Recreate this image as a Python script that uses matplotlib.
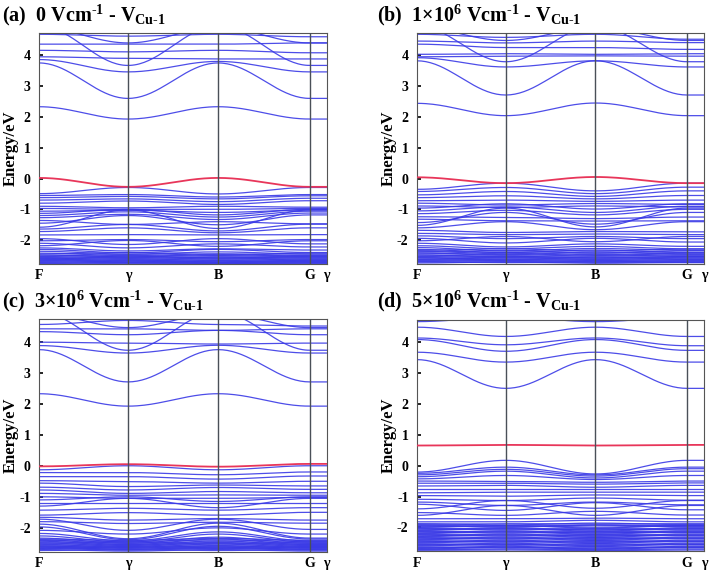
import numpy as np
import matplotlib.pyplot as plt

plt.rcParams['font.family'] = 'Liberation Serif'
plt.rcParams['font.weight'] = 'bold'
plt.rcParams['mathtext.fontset'] = 'custom'
plt.rcParams['mathtext.rm'] = 'Liberation Serif:bold'
plt.rcParams['mathtext.it'] = 'Liberation Serif:italic:bold'
plt.rcParams['mathtext.bf'] = 'Liberation Serif:bold'

# high-symmetry path
kpos = [0.0, 0.309, 0.622, 0.941, 1.0]
klabels = ['F', 'γ', 'B', 'G', 'γ']

hy = '\u2010'
titles = [r'(a)  0 Vcm$^{' + hy + r'1}$ - V$_{\mathrm{Cu' + hy + r'1}}$',
          r'(b)  1×10$^{6}$ Vcm$^{' + hy + r'1}$ - V$_{\mathrm{Cu' + hy + r'1}}$',
          r'(c)  3×10$^{6}$ Vcm$^{' + hy + r'1}$ - V$_{\mathrm{Cu' + hy + r'1}}$',
          r'(d)  5×10$^{6}$ Vcm$^{' + hy + r'1}$ - V$_{\mathrm{Cu' + hy + r'1}}$']

# band energies (eV) at F, γ, B, G, γ
a_red = [0.02, -0.27, 0.02, -0.27, -0.27]
a_bands = [
    [4.95, 3.67, 4.95, 3.67, 3.67],
    [4.90, 4.40, 4.90, 4.40, 4.40],
    [4.68, 4.62, 4.68, 4.60, 4.60],
    [4.36, 4.36, 4.36, 4.40, 4.40],
    [4.16, 4.11, 4.16, 4.08, 4.08],
    [3.95, 3.90, 3.88, 3.88, 3.88],
    [3.86, 3.46, 3.80, 3.46, 3.46],
    [3.75, 2.60, 3.75, 2.60, 2.60],
    [2.33, 1.93, 2.33, 1.93, 1.93],
    [-0.49, -0.29, -0.50, -0.29, -0.29],
    [-0.55, -0.52, -0.60, -0.52, -0.52],
    [-0.62, -0.58, -0.66, -0.56, -0.56],
    [-0.70, -0.66, -0.75, -0.64, -0.64],
    [-0.80, -0.73, -0.84, -0.72, -0.72],
    [-0.90, -0.95, -0.90, -0.93, -0.93],
    [-0.97, -1.00, -1.00, -0.97, -0.97],
    [-1.06, -1.03, -1.10, -1.02, -1.02],
    [-1.13, -1.00, -1.18, -1.00, -1.00],
    [-1.20, -1.08, -1.25, -1.06, -1.06],
    [-1.27, -1.16, -1.33, -1.12, -1.12],
    [-1.36, -1.49, -1.40, -1.47, -1.47],
    [-1.45, -1.20, -1.50, -1.18, -1.18],
    [-1.58, -1.02, -1.62, -1.02, -1.02],
    [-1.64, -1.49, -1.70, -1.48, -1.48],
    [-1.72, -1.60, -1.76, -1.60, -1.60],
    [-1.83, -1.82, -1.83, -1.82, -1.82],
    [-1.95, -2.14, -1.95, -2.12, -2.12],
    [-2.02, -1.98, -2.05, -1.98, -1.98],
    [-2.10, -2.25, -2.12, -2.22, -2.22],
    [-2.18, -2.01, -2.20, -2.02, -2.02],
    [-2.25, -2.35, -2.28, -2.32, -2.32],
    [-2.30, -2.41, -2.30, -2.40, -2.40],
    [-2.36, -2.45, -2.38, -2.45, -2.45],
    [-2.42, -2.50, -2.44, -2.50, -2.50],
    [-2.45, -2.40, -2.47, -2.42, -2.42],
    [-2.48, -2.54, -2.50, -2.54, -2.54],
    [-2.51, -2.47, -2.52, -2.48, -2.48],
    [-2.53, -2.58, -2.55, -2.58, -2.58],
    [-2.56, -2.52, -2.57, -2.53, -2.53],
    [-2.58, -2.62, -2.60, -2.62, -2.62],
    [-2.60, -2.56, -2.61, -2.57, -2.57],
    [-2.62, -2.66, -2.64, -2.66, -2.66],
    [-2.64, -2.60, -2.66, -2.61, -2.61],
    [-2.66, -2.70, -2.68, -2.70, -2.70],
    [-2.68, -2.64, -2.70, -2.65, -2.65],
    [-2.70, -2.73, -2.72, -2.73, -2.73],
    [-2.72, -2.68, -2.73, -2.69, -2.69],
    [-2.74, -2.76, -2.75, -2.76, -2.76],
    [-2.76, -2.72, -2.76, -2.73, -2.73],
]

b_red = [0.04, -0.15, 0.05, -0.15, -0.15]
b_bands = [
    [4.95, 3.79, 4.95, 3.79, 3.79],
    [4.90, 4.48, 4.90, 4.48, 4.48],
    [4.68, 4.58, 4.68, 4.52, 4.52],
    [4.46, 4.40, 4.46, 4.41, 4.41],
    [4.36, 4.25, 4.25, 4.19, 4.19],
    [4.03, 4.05, 4.03, 4.05, 4.05],
    [3.95, 3.97, 3.98, 3.97, 3.97],
    [3.92, 3.62, 3.82, 3.62, 3.62],
    [3.82, 2.71, 3.82, 2.71, 2.71],
    [2.44, 2.04, 2.45, 2.04, 2.04],
    [-0.35, -0.15, -0.40, -0.15, -0.15],
    [-0.42, -0.29, -0.49, -0.28, -0.28],
    [-0.53, -0.42, -0.58, -0.40, -0.40],
    [-0.62, -0.56, -0.66, -0.55, -0.55],
    [-0.72, -0.70, -0.74, -0.70, -0.70],
    [-0.80, -0.86, -0.81, -0.84, -0.84],
    [-0.89, -0.94, -0.89, -0.92, -0.92],
    [-0.96, -0.82, -0.99, -0.82, -0.82],
    [-1.05, -0.92, -1.10, -0.90, -0.90],
    [-1.14, -1.03, -1.18, -1.00, -1.00],
    [-1.24, -1.26, -1.30, -1.25, -1.25],
    [-1.32, -1.37, -1.38, -1.37, -1.37],
    [-1.43, -1.10, -1.48, -1.10, -1.10],
    [-1.52, -0.96, -1.57, -0.96, -0.96],
    [-1.60, -1.40, -1.66, -1.40, -1.40],
    [-1.68, -1.75, -1.72, -1.73, -1.73],
    [-1.78, -1.82, -1.80, -1.82, -1.82],
    [-1.86, -1.95, -1.88, -1.95, -1.95],
    [-1.94, -2.09, -1.94, -2.06, -2.06],
    [-2.02, -1.88, -2.05, -1.88, -1.88],
    [-2.10, -2.22, -2.12, -2.20, -2.20],
    [-2.18, -2.28, -2.20, -2.28, -2.28],
    [-2.24, -2.35, -2.27, -2.33, -2.33],
    [-2.30, -2.40, -2.32, -2.40, -2.40],
    [-2.33, -2.28, -2.35, -2.29, -2.29],
    [-2.36, -2.44, -2.38, -2.44, -2.44],
    [-2.39, -2.34, -2.41, -2.35, -2.35],
    [-2.42, -2.49, -2.44, -2.49, -2.49],
    [-2.45, -2.40, -2.47, -2.41, -2.41],
    [-2.48, -2.53, -2.50, -2.53, -2.53],
    [-2.51, -2.46, -2.52, -2.47, -2.47],
    [-2.53, -2.57, -2.55, -2.57, -2.57],
    [-2.56, -2.52, -2.57, -2.53, -2.53],
    [-2.58, -2.61, -2.60, -2.61, -2.61],
    [-2.61, -2.57, -2.62, -2.58, -2.58],
    [-2.63, -2.65, -2.64, -2.65, -2.65],
    [-2.65, -2.62, -2.66, -2.63, -2.63],
    [-2.67, -2.69, -2.68, -2.69, -2.69],
    [-2.69, -2.66, -2.70, -2.67, -2.67],
    [-2.71, -2.73, -2.72, -2.73, -2.73],
    [-2.74, -2.71, -2.75, -2.72, -2.72],
]

c_red = [-0.02, 0.05, -0.03, 0.06, 0.06]
c_bands = [
    [4.95, 3.72, 4.95, 3.72, 3.72],
    [4.90, 4.45, 4.90, 4.45, 4.45],
    [4.55, 4.68, 4.55, 4.50, 4.50],
    [4.41, 4.41, 4.36, 4.41, 4.41],
    [4.32, 4.22, 4.36, 4.22, 4.22],
    [3.98, 3.95, 3.92, 3.95, 3.95],
    [3.87, 3.63, 3.88, 3.63, 3.63],
    [3.74, 2.70, 3.74, 2.70, 2.70],
    [2.32, 1.92, 2.32, 1.92, 1.92],
    [-0.13, 0.00, -0.13, 0.00, 0.00],
    [-0.22, -0.22, -0.29, -0.20, -0.20],
    [-0.35, -0.35, -0.43, -0.33, -0.33],
    [-0.48, -0.51, -0.56, -0.50, -0.50],
    [-0.56, -0.67, -0.62, -0.65, -0.65],
    [-0.69, -0.78, -0.70, -0.76, -0.76],
    [-0.78, -0.89, -0.83, -0.87, -0.87],
    [-0.89, -0.95, -0.94, -0.95, -0.95],
    [-1.00, -1.05, -1.05, -1.02, -1.02],
    [-1.10, -1.00, -1.15, -1.00, -1.00],
    [-1.21, -1.21, -1.21, -1.21, -1.21],
    [-1.30, -1.05, -1.35, -1.05, -1.05],
    [-1.43, -1.37, -1.43, -1.35, -1.35],
    [-1.59, -1.51, -1.59, -1.50, -1.50],
    [-1.66, -1.75, -1.70, -1.75, -1.75],
    [-1.72, -2.08, -1.72, -2.05, -2.05],
    [-1.80, -1.86, -1.82, -1.85, -1.85],
    [-1.88, -2.35, -1.85, -2.33, -2.33],
    [-1.97, -2.38, -1.95, -2.36, -2.36],
    [-2.08, -2.20, -2.00, -2.20, -2.20],
    [-2.18, -2.42, -2.13, -2.42, -2.42],
    [-2.26, -2.46, -2.20, -2.46, -2.46],
    [-2.33, -2.50, -2.30, -2.50, -2.50],
    [-2.36, -2.40, -2.34, -2.40, -2.40],
    [-2.38, -2.54, -2.36, -2.54, -2.54],
    [-2.41, -2.44, -2.39, -2.44, -2.44],
    [-2.43, -2.57, -2.42, -2.57, -2.57],
    [-2.46, -2.48, -2.45, -2.48, -2.48],
    [-2.48, -2.60, -2.47, -2.60, -2.60],
    [-2.51, -2.52, -2.50, -2.52, -2.52],
    [-2.53, -2.63, -2.52, -2.63, -2.63],
    [-2.56, -2.55, -2.55, -2.55, -2.55],
    [-2.58, -2.66, -2.57, -2.66, -2.66],
    [-2.60, -2.59, -2.60, -2.59, -2.59],
    [-2.62, -2.69, -2.62, -2.69, -2.69],
    [-2.64, -2.62, -2.64, -2.62, -2.62],
    [-2.66, -2.72, -2.66, -2.72, -2.72],
    [-2.68, -2.65, -2.68, -2.65, -2.65],
    [-2.70, -2.75, -2.70, -2.75, -2.75],
    [-2.73, -2.70, -2.73, -2.70, -2.70],
]

d_red = [0.65, 0.67, 0.65, 0.67, 0.67]
d_bands = [
    [4.66, 4.80, 4.66, 4.80, 4.80],
    [4.48, 4.18, 4.48, 4.18, 4.18],
    [4.13, 3.91, 4.13, 3.88, 3.88],
    [4.08, 3.70, 4.08, 3.73, 3.73],
    [3.67, 3.35, 3.67, 3.35, 3.35],
    [3.43, 2.50, 3.43, 2.50, 2.50],
    [-0.21, 0.17, -0.27, 0.17, 0.17],
    [-0.25, -0.05, -0.30, -0.05, -0.05],
    [-0.30, -0.12, -0.34, -0.10, -0.10],
    [-0.36, -0.18, -0.40, -0.18, -0.18],
    [-0.43, -0.32, -0.45, -0.32, -0.32],
    [-0.50, -0.51, -0.54, -0.50, -0.50],
    [-0.57, -0.57, -0.60, -0.56, -0.56],
    [-0.66, -0.64, -0.70, -0.64, -0.64],
    [-0.75, -0.75, -0.75, -0.75, -0.75],
    [-0.88, -0.86, -0.86, -0.86, -0.86],
    [-0.97, -0.99, -0.95, -0.97, -0.97],
    [-1.09, -1.13, -1.05, -1.12, -1.12],
    [-1.18, -1.29, -1.18, -1.27, -1.27],
    [-1.25, -1.45, -1.20, -1.43, -1.43],
    [-1.40, -1.13, -1.38, -1.13, -1.13],
    [-1.52, -1.61, -1.48, -1.60, -1.60],
    [-1.61, -1.29, -1.61, -1.29, -1.29],
    [-1.72, -1.72, -1.70, -1.72, -1.72],
    [-1.82, -1.82, -1.77, -1.82, -1.82],
    [-1.88, -1.92, -1.86, -1.91, -1.91],
    [-1.90, -1.88, -1.89, -1.88, -1.88],
    [-1.93, -1.96, -1.92, -1.95, -1.95],
    [-1.95, -1.99, -1.93, -1.98, -1.98],
    [-1.98, -1.95, -1.99, -1.95, -1.95],
    [-2.00, -1.94, -2.02, -1.94, -1.94],
    [-2.03, -2.05, -2.04, -2.05, -2.05],
    [-2.05, -2.08, -2.06, -2.08, -2.08],
    [-2.08, -2.01, -2.09, -2.01, -2.01],
    [-2.10, -2.04, -2.12, -2.04, -2.04],
    [-2.13, -2.15, -2.13, -2.15, -2.15],
    [-2.15, -2.18, -2.16, -2.17, -2.17],
    [-2.18, -2.11, -2.19, -2.11, -2.11],
    [-2.20, -2.14, -2.22, -2.14, -2.14],
    [-2.23, -2.25, -2.23, -2.25, -2.25],
    [-2.25, -2.28, -2.26, -2.27, -2.27],
    [-2.28, -2.21, -2.29, -2.21, -2.21],
    [-2.30, -2.24, -2.32, -2.24, -2.24],
    [-2.33, -2.35, -2.33, -2.35, -2.35],
    [-2.35, -2.38, -2.36, -2.37, -2.37],
    [-2.38, -2.31, -2.39, -2.31, -2.31],
    [-2.40, -2.34, -2.42, -2.34, -2.34],
    [-2.43, -2.45, -2.43, -2.45, -2.45],
    [-2.45, -2.48, -2.46, -2.47, -2.47],
    [-2.48, -2.41, -2.49, -2.41, -2.41],
    [-2.50, -2.44, -2.52, -2.44, -2.44],
    [-2.53, -2.55, -2.53, -2.55, -2.55],
    [-2.55, -2.58, -2.56, -2.57, -2.57],
    [-2.58, -2.51, -2.59, -2.51, -2.51],
    [-2.60, -2.54, -2.62, -2.54, -2.54],
    [-2.63, -2.64, -2.63, -2.64, -2.64],
    [-2.65, -2.67, -2.66, -2.66, -2.66],
    [-2.68, -2.61, -2.69, -2.61, -2.61],
    [-2.70, -2.64, -2.71, -2.64, -2.64],
    [-2.72, -2.70, -2.73, -2.70, -2.70],
    [-2.74, -2.73, -2.75, -2.73, -2.73],
    [-2.76, -2.76, -2.76, -2.76, -2.76],
]

panels = [(a_bands, a_red), (b_bands, b_red), (c_bands, c_red), (d_bands, d_red)]

# axes boxes [left, bottom, width, height] in figure fraction
boxes = [[0.055, 0.537, 0.406, 0.405],
         [0.588, 0.537, 0.405, 0.405],
         [0.055, 0.032, 0.406, 0.408],
         [0.588, 0.033, 0.405, 0.406]]
title_pos = [(0.003, 0.963), (0.532, 0.963), (0.003, 0.461), (0.532, 0.461)]


def band_path(E, n=40):
    xs, ys = [], []
    t = np.linspace(0, 1, n)
    s = (1 - np.cos(np.pi * t)) / 2
    for i in range(len(kpos) - 1):
        xs.append(kpos[i] + (kpos[i + 1] - kpos[i]) * t)
        ys.append(E[i] + (E[i + 1] - E[i]) * s)
    return np.concatenate(xs), np.concatenate(ys)


fig = plt.figure(figsize=(7.09, 5.70), dpi=100)
for (bands, red), box, title, tp in zip(panels, boxes, titles, title_pos):
    ax = fig.add_axes(box)
    for E in bands:
        x, y = band_path(E)
        ax.plot(x, y, color='#3a3ae6', lw=0.9, alpha=0.9)
    x, y = band_path(red)
    ax.plot(x, y, color='#e8365a', lw=1.3, zorder=3)
    for k in kpos[1:4]:
        ax.axvline(k, color='#4a5058', lw=1.0, zorder=4)
    ax.set_xlim(0, 1)
    ax.set_ylim(-2.77, 4.72)
    ax.set_xticks(kpos)
    ax.set_xticklabels(klabels, fontsize=10, fontweight='bold')
    ax.tick_params(axis='x', length=0, pad=4)
    yt = [-2, -1, 0, 1, 2, 3, 4]
    ax.set_yticks(yt)
    ax.set_yticklabels([str(v) for v in yt], fontsize=10, fontweight='bold')
    ax.tick_params(axis='y', direction='in', length=3, width=1.2, pad=6)
    ax.set_ylabel('Energy/eV', fontsize=12, fontweight='bold', labelpad=0)
    for sp in ax.spines.values():
        sp.set_linewidth(0.8)
        sp.set_color('#555555')
    fig.text(tp[0], tp[1], title, fontsize=14.5, fontweight='bold', va='baseline')

fig.savefig('out.png', dpi=100)
